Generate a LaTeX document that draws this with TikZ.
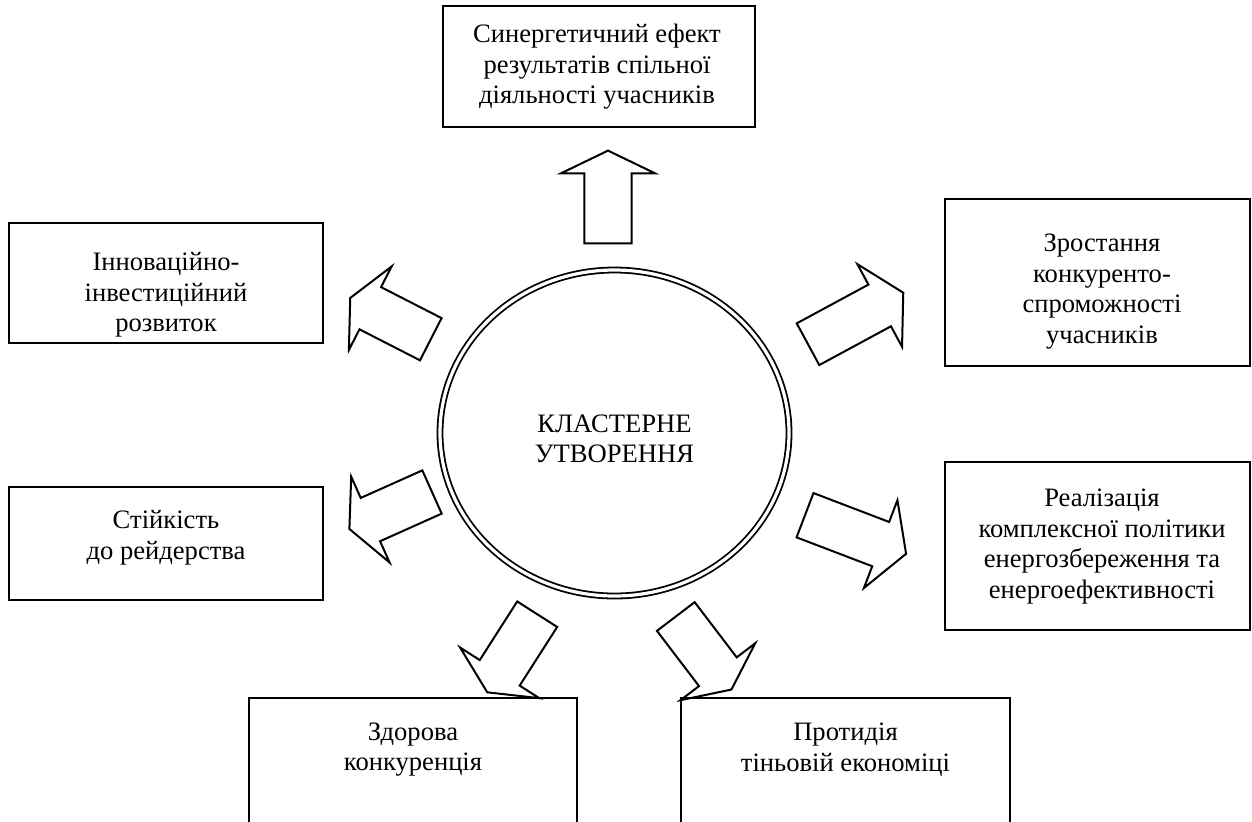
\documentclass[tikz,border=0pt]{standalone}
\usepackage{fontspec}
\setmainfont{Liberation Serif}
\usetikzlibrary{shapes.geometric}

\tikzset{
    frame/.style={draw, line width=0.8pt},
    label/.style={align=center, inner sep=0pt, font=\fontsize{13.3}{15.3}\selectfont},
    cluster/.style={ellipse, draw, double, line width=0.9pt, double distance=1.6pt,
        minimum width=174.5pt, minimum height=163pt, inner sep=0pt},
    pics/blockarrow/.style 2 args={code={
        \draw[line width=1pt, line join=miter]
            (0,-23.7) -- (#1,-23.7) -- (#1,-47) -- (#1+#2,0)
            -- (#1,47) -- (#1,23.7) -- (0,23.7) -- cycle;
    }}
}

\begin{document}
\begin{tikzpicture}[x=0.5pt,y=-0.5pt]
    \useasboundingbox (0,0) rectangle (1252,821);

    % centre
    \node[cluster] (cluster) at (614.5,433) {};
    \node[label] (clustertext) at (614.5,439) {КЛАСТЕРНЕ\\УТВОРЕННЯ};

    % frames round the effects
    \draw[frame] (443,6) rectangle (755,127);
    \draw[frame] (9,223) rectangle (323,343);
    \draw[frame] (945,199) rectangle (1250,366);
    \draw[frame] (9,487) rectangle (323,600);
    \draw[frame] (945,462) rectangle (1250,630);
    \draw[frame] (249,830) -- (249,698) -- (577,698) -- (577,830);
    \draw[frame] (681,830) -- (681,698) -- (1010,698) -- (1010,830);

    % effects
    \node[label] (synergy) at (597,67) {Синергетичний ефект\\результатів спільної\\діяльності учасників};
    \node[label] (innov) at (166,295) {Інноваційно-\\інвестиційний\\розвиток};
    \node[label] (compet) at (1102,291.5) {Зростання\\конкуренто-\\спроможності\\учасників};
    \node[label] (raid) at (166,538) {Стійкість\\до рейдерства};
    \node[label] (energy) at (1102,546.5) {Реалізація\\комплексної політики\\енергозбереження та\\енергоефективності};
    \node[label] (health) at (413,749.5) {Здорова\\конкуренція};
    \node[label] (shadow) at (845.5,749.5) {Протидія\\тіньовій економіці};

    % block arrows: tail x/tail y/angle/shaft/head
    \foreach \x/\y/\a/\s/\h in {608/243.3/90/70/22.7, 430.8/339.2/152.9/68/22.5,
        808/344.2/28.4/81.5/26.8, 432/492/204.1/67.5/23, 805/515.2/-20.9/81/27.2,
        537.2/614.2/237.4/69.6/23.1, 675.8/616.5/-52.7/69.4/22.4}{
        \pic[rotate=\a] at (\x,\y) {blockarrow={\s}{\h}};
    }
\end{tikzpicture}
\end{document}
